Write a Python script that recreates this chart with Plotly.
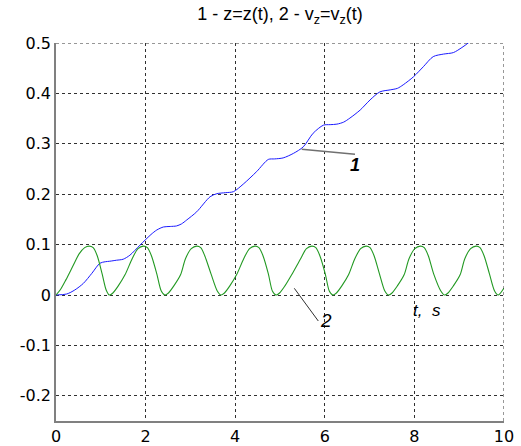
import plotly.graph_objects as go

# z(t), curve 1
t_z = [0.0, 0.24, 0.42, 0.61, 0.80, 0.98, 1.10, 1.20, 1.35, 1.50, 1.65, 1.875, 1.99, 2.12, 2.25,
       2.40, 2.55, 2.69, 2.80, 2.92, 3.14, 3.44, 3.59, 3.78, 3.96, 4.18, 4.48, 4.74, 4.88, 5.07,
       5.30, 5.52, 5.74, 5.97, 6.12, 6.27, 6.42, 6.56, 6.79, 7.01, 7.23, 7.46, 7.62, 7.75, 7.98,
       8.20, 8.42, 8.65, 8.87, 9.06, 9.20, 9.35]
z_vals = [0.0, 0.002, 0.010, 0.023, 0.043, 0.063, 0.066, 0.067, 0.069, 0.071, 0.079, 0.099, 0.109, 0.120, 0.129,
          0.135, 0.136, 0.137, 0.141, 0.149, 0.165, 0.195, 0.201, 0.203, 0.205, 0.220, 0.245, 0.269, 0.270, 0.272,
          0.281, 0.294, 0.321, 0.337, 0.338, 0.339, 0.343, 0.351, 0.367, 0.387, 0.403, 0.407, 0.410, 0.417, 0.433,
          0.453, 0.473, 0.478, 0.481, 0.491, 0.500, 0.512]

# v_z(t), curve 2
t_v = [0.0, 0.10, 0.22, 0.38, 0.52, 0.64, 0.74, 0.83, 0.92, 1.03, 1.12, 1.19,
       1.27, 1.39, 1.54, 1.70, 1.83, 1.95, 2.04, 2.13, 2.25, 2.35, 2.43,
       2.51, 2.63, 2.78, 2.89, 3.02, 3.14, 3.23, 3.32, 3.46, 3.60, 3.68,
       3.76, 3.88, 4.03, 4.19, 4.32, 4.44, 4.53, 4.62, 4.74, 4.83, 4.91,
       4.99, 5.11, 5.26, 5.46, 5.59, 5.71, 5.80, 5.89, 6.01, 6.10, 6.18,
       6.26, 6.38, 6.53, 6.67, 6.80, 6.92, 7.01, 7.10, 7.22, 7.34, 7.42,
       7.50, 7.62, 7.77, 7.88, 8.01, 8.13, 8.22, 8.31, 8.43, 8.59, 8.67,
       8.75, 8.87, 9.02, 9.125, 9.255, 9.375, 9.465, 9.555, 9.675, 9.79, 9.87, 10.0]
v_vals = [0.0, 0.011, 0.030, 0.058, 0.082, 0.094, 0.097, 0.094, 0.078, 0.042, 0.010, 0.0,
          0.004, 0.018, 0.040, 0.072, 0.092, 0.097, 0.094, 0.078, 0.042, 0.008, 0.0,
          0.004, 0.018, 0.040, 0.072, 0.092, 0.097, 0.094, 0.078, 0.042, 0.008, 0.0,
          0.004, 0.018, 0.040, 0.072, 0.092, 0.097, 0.094, 0.078, 0.042, 0.008, 0.0,
          0.004, 0.018, 0.040, 0.072, 0.092, 0.097, 0.094, 0.078, 0.042, 0.008, 0.0,
          0.004, 0.018, 0.040, 0.072, 0.092, 0.097, 0.094, 0.078, 0.042, 0.008, 0.0,
          0.004, 0.018, 0.040, 0.072, 0.092, 0.097, 0.094, 0.078, 0.042, 0.008, 0.0,
          0.004, 0.018, 0.040, 0.072, 0.092, 0.097, 0.094, 0.078, 0.042, 0.008, 0.0, 0.014]

x_ticks = [0, 2, 4, 6, 8, 10]
x_ticktext = ["0", "2", "4", "6", "8", "10"]
y_ticks = [-0.2, -0.1, 0.0, 0.1, 0.2, 0.3, 0.4, 0.5]
y_ticktext = ["-0.2", "-0.1", "0", "0.1", "0.2", "0.3", "0.4", "0.5"]

FONT = "DejaVu Sans, Liberation Sans, Arial"
GRID = "#303030"

fig = go.Figure()
fig.add_trace(go.Scatter(x=t_z, y=z_vals, mode="lines",
                         line=dict(color="#1a1aff", width=1, shape="spline", smoothing=0.8),
                         showlegend=False))
fig.add_trace(go.Scatter(x=t_v, y=v_vals, mode="lines",
                         line=dict(color="#229922", width=1.1, shape="spline", smoothing=0.8),
                         showlegend=False))

# dashed grid lines on the top and right edges
fig.add_shape(type="line", xref="paper", yref="y", x0=0, x1=1, y0=0.5, y1=0.5,
              line=dict(color=GRID, width=1, dash="3px,3px"))
fig.add_shape(type="line", xref="x", yref="paper", x0=10, x1=10, y0=0, y1=1,
              line=dict(color=GRID, width=1, dash="3px,3px"))

# leader lines and labels
fig.add_shape(type="line", xref="paper", yref="paper",
              x0=(301.7 - 56) / 448, y0=(421 - 149.3) / 378, x1=(355 - 56) / 448, y1=(421 - 154.3) / 378,
              line=dict(color="#707070", width=1.5))
fig.add_shape(type="line", xref="paper", yref="paper",
              x0=(294.3 - 56) / 448, y0=(421 - 288.3) / 378, x1=(318.3 - 56) / 448, y1=(421 - 321) / 378,
              line=dict(color="#303030", width=1))

fig.add_annotation(xref="paper", yref="paper", x=(362 - 56) / 448, y=(421 - 153) / 378,
                   text="<i><b>1</b></i>", showarrow=False,
                   font=dict(family="Liberation Sans, Arial", size=18, color="black"))
fig.add_annotation(xref="paper", yref="paper", x=(326 - 56) / 448, y=(421 - 333) / 378,
                   text="<i>2</i>", showarrow=False,
                   font=dict(family="Liberation Sans, Arial", size=19, color="black"))
fig.add_annotation(xref="paper", yref="paper", x=(443 - 56) / 448, y=(421 - 322) / 378,
                   text="<i>t,  s</i>", showarrow=False,
                   font=dict(family="Liberation Sans, Arial", size=17, color="black"))

fig.update_layout(
    width=521, height=446,
    margin=dict(l=56, r=17, t=43, b=25),
    paper_bgcolor="white", plot_bgcolor="white",
    title=dict(text="1 - z=z(t), 2 - v<sub>z</sub>=v<sub>z</sub>(t)",
               x=280 / 521, xanchor="center", y=1 - 14 / 446, yanchor="middle",
               font=dict(family="Liberation Sans, Arial", size=18, color="black")),
    font=dict(family=FONT, size=16, color="black"),
)
fig.update_xaxes(range=[0, 10], tickvals=x_ticks, ticktext=x_ticktext, automargin=False,
                 showgrid=True, gridcolor=GRID, griddash="3px,3px", gridwidth=1,
                 zeroline=False, showline=True, linecolor="#808080", linewidth=1.5,
                 ticks="", tickfont=dict(family=FONT, size=16, color="black"))
fig.update_yaxes(range=[-0.25, 0.5], tickvals=y_ticks, ticktext=y_ticktext, automargin=False,
                 showgrid=True, gridcolor=GRID, griddash="3px,3px", gridwidth=1,
                 zeroline=False, showline=True, linecolor="#808080", linewidth=1.5,
                 ticks="", tickfont=dict(family=FONT, size=16, color="black"))

fig.write_html("out.html")
